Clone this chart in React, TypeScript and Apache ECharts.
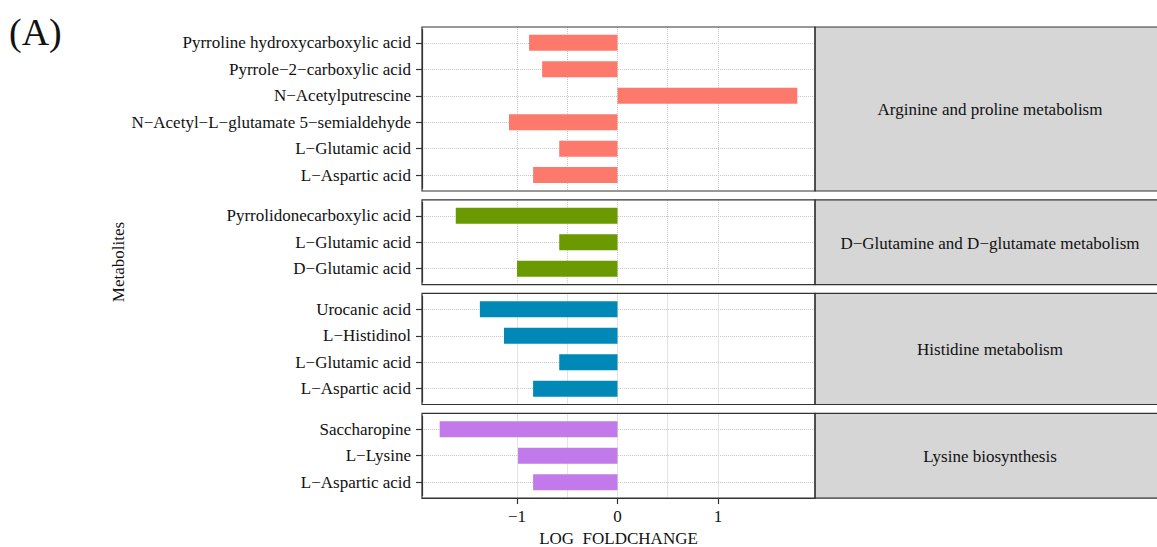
import React, { useEffect, useRef } from 'react';
import * as echarts from 'echarts';

// ---------- data ----------
const pathways = [
  'Arginine and proline metabolism',
  'D−Glutamine and D−glutamate metabolism',
  'Histidine metabolism',
  'Lysine biosynthesis',
];
const argMetabolites = [
  'Pyrroline hydroxycarboxylic acid',
  'Pyrrole−2−carboxylic acid',
  'N−Acetylputrescine',
  'N−Acetyl−L−glutamate 5−semialdehyde',
  'L−Glutamic acid',
  'L−Aspartic acid',
];
const argValues = [-0.88, -0.75, 1.79, -1.08, -0.58, -0.84];
const gluMetabolites = ['Pyrrolidonecarboxylic acid', 'L−Glutamic acid', 'D−Glutamic acid'];
const gluValues = [-1.61, -0.58, -1.0];
const hisMetabolites = ['Urocanic acid', 'L−Histidinol', 'L−Glutamic acid', 'L−Aspartic acid'];
const hisValues = [-1.37, -1.13, -0.58, -0.84];
const lysMetabolites = ['Saccharopine', 'L−Lysine', 'L−Aspartic acid'];
const lysValues = [-1.77, -0.99, -0.84];
const panelColors = ['#FC796C', '#6A9A00', '#0089B7', '#C27AEB'];
const xTickValues = [-1, 0, 1];
const gridLineValues = [-1.5, -1, -0.5, 0, 0.5, 1, 1.5];

const X_MIN = -1.946;
const X_MAX = 1.966;

const FONT = 'Liberation Serif';

export default function App() {
  const ref = useRef<HTMLDivElement>(null);

  useEffect(() => {
    if (!ref.current) return;
    const chart = echarts.init(ref.current, undefined, { renderer: 'svg' });

    const panels = [
      { names: argMetabolites, values: argValues },
      { names: gluMetabolites, values: gluValues },
      { names: hisMetabolites, values: hisValues },
      { names: lysMetabolites, values: lysValues },
    ];

    const LEFT = 422;
    const WIDTH = 393;
    const U = 26.45;
    const GAP = 8.9;
    let top = 27;

    const grids: any[] = [];
    const xAxes: any[] = [];
    const yAxes: any[] = [];
    const series: any[] = [];
    const graphics: any[] = [];
    const dotted = { type: 'dotted', color: '#c8c8c8', width: 1 };

    panels.forEach((p, i) => {
      const n = p.names.length;
      const h = (n + 0.2) * U;
      const go = grids.length;
      grids.push({ left: LEFT, width: WIDTH, top, height: h, outerBoundsMode: 'none', containLabel: false });
      const gi = grids.length;
      grids.push({ left: LEFT, width: WIDTH, top: top + 0.1 * U, height: n * U, outerBoundsMode: 'none', containLabel: false });

      // outer grid: grid lines
      xAxes.push({
        type: 'value', gridIndex: go, min: X_MIN, max: X_MAX,
        splitNumber: 8, minInterval: 0.5, maxInterval: 0.5,
        axisLine: { show: false, onZero: false }, axisTick: { show: false, customValues: gridLineValues },
        axisLabel: { show: false },
        splitLine: { show: true, showMinLine: false, showMaxLine: false, lineStyle: dotted },
      });
      yAxes.push({
        type: 'value', gridIndex: go, inverse: true, min: -0.6, max: n - 0.4,
        splitNumber: n, minInterval: 1, maxInterval: 1,
        axisLine: { show: false, onZero: false }, axisTick: { show: false }, axisLabel: { show: false },
        splitLine: { show: true, showMinLine: false, showMaxLine: false, lineStyle: dotted },
      });

      // inner grid: bars + labels
      const xi = xAxes.length;
      xAxes.push({
        type: 'value', gridIndex: gi, min: X_MIN, max: X_MAX, show: false,
        axisLine: { onZero: false }, splitLine: { show: false },
      });
      const yi = yAxes.length;
      yAxes.push({
        type: 'category', gridIndex: gi, inverse: true, data: p.names, position: 'left',
        axisLine: { show: true, onZero: false, lineStyle: { color: '#333', width: 1.2 } },
        axisTick: { show: true, inside: false, alignWithLabel: true, length: 6, lineStyle: { color: '#333', width: 1.2 } },
        axisLabel: { show: true, margin: 11, fontSize: 17, fontFamily: FONT, color: '#111' },
        splitLine: { show: false },
      });
      series.push({
        type: 'bar', xAxisIndex: xi, yAxisIndex: yi, data: p.values, barWidth: 16,
        itemStyle: { color: panelColors[i] }, silent: true,
      });

      if (i === panels.length - 1) {
        xAxes.push({
          type: 'value', gridIndex: go, min: X_MIN, max: X_MAX, position: 'bottom',
          axisLine: { show: true, onZero: false, lineStyle: { color: '#333', width: 1.2 } },
          axisTick: { show: true, inside: false, length: 6, customValues: xTickValues, lineStyle: { color: '#333', width: 1.2 } },
          axisLabel: {
            show: true, customValues: xTickValues,
            margin: 10, fontSize: 17, fontFamily: FONT, color: '#111',
            formatter: (v: number) => (v < 0 ? '−' + String(-v) : String(v)),
          },
          splitLine: { show: false },
          name: 'LOG  FOLDCHANGE', nameLocation: 'middle', nameGap: 32,
          nameTextStyle: { fontSize: 17, fontFamily: FONT, color: '#111' },
        });
      }

      // panel border
      graphics.push({
        type: 'rect', z: 50,
        shape: { x: LEFT, y: top, width: WIDTH, height: h },
        style: { fill: 'none', stroke: '#333', lineWidth: 1.2 },
      });
      // strip
      graphics.push({
        type: 'rect', z: 40,
        shape: { x: LEFT + WIDTH, y: top, width: 360, height: h },
        style: { fill: '#d6d6d6', stroke: '#333', lineWidth: 1.2 },
      });
      graphics.push({
        type: 'text', z: 51, x: 990, y: top + h / 2 + 1,
        style: {
          text: pathways[i], fill: '#111', fontSize: 17, fontFamily: FONT,
          align: 'center', verticalAlign: 'middle',
        },
      });

      top += h + GAP;
    });

    graphics.push({
      type: 'text', x: 118, y: 262, rotation: Math.PI / 2,
      style: { text: 'Metabolites', fill: '#111', fontSize: 17, fontFamily: FONT, align: 'center', verticalAlign: 'middle' },
    });
    graphics.push({
      type: 'text', x: 9, y: 32,
      style: { text: '(A)', fill: '#111', fontSize: 38, fontFamily: FONT, align: 'left', verticalAlign: 'middle' },
    });

    chart.setOption({
      animation: false,
      backgroundColor: '#ffffff',
      textStyle: { fontFamily: FONT },
      grid: grids,
      xAxis: xAxes,
      yAxis: yAxes,
      series,
      graphic: { elements: graphics },
    });

    return () => chart.dispose();
  }, []);

  return (
    <div
      ref={ref}
      style={{ position: 'absolute', left: 0, top: 0, width: 1157, height: 547 }}
    />
  );
}
